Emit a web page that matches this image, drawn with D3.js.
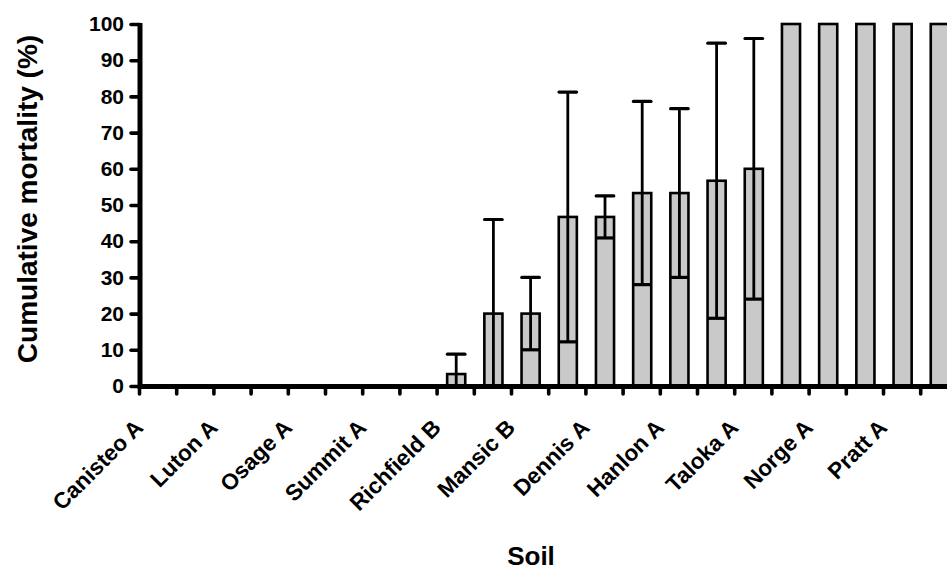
<!DOCTYPE html>
<html>
<head>
<meta charset="utf-8">
<script src="https://cdn.jsdelivr.net/npm/d3@7"></script>
<style>
  html, body { margin: 0; padding: 0; background: #fff; }
  svg { display: block; font-family: "Liberation Sans", Arial, sans-serif; font-weight: bold; }
</style>
</head>
<body>
<svg id="chart" width="947" height="571"></svg>
<script>
// ---- data ----
const categoryIndex = d3.range(22);
const soilLabels = ["Canisteo A", "Luton A", "Osage A", "Summit A", "Richfield B", "Mansic B",
                    "Dennis A", "Hanlon A", "Taloka A", "Norge A", "Pratt A"];
const labelPositions = [0, 2, 4, 6, 8, 10, 12, 14, 16, 18, 20];
const mortality = [0, 0, 0, 0, 0, 0, 0, 0, 3.3, 20, 20, 46.7, 46.7, 53.3, 53.3, 56.7, 60, 100, 100, 100, 100, 100];
const errorSD   = [0, 0, 0, 0, 0, 0, 0, 0, 5.5, 26, 10, 34.5, 5.8, 25.3, 23.3, 38, 36, 0, 0, 0, 0, 0];
const yTicks = [0, 10, 20, 30, 40, 50, 60, 70, 80, 90, 100];

// ---- layout ----
const svg = d3.select("#chart");
const x0 = 139, bandW = 37.2;
const x = d3.scaleBand().domain(categoryIndex).range([x0, x0 + bandW * categoryIndex.length]).paddingInner(0.5).paddingOuter(0.25);
const xEdge = d3.scaleLinear().domain([0, categoryIndex.length]).range([x0, x0 + bandW * categoryIndex.length]);
const y = d3.scaleLinear().domain([0, 100]).range([386, 24]);

const data = categoryIndex.map(i => ({ i, m: mortality[i], sd: errorSD[i] }));

// bars
svg.append("g").selectAll("rect")
  .data(data.filter(d => d.m > 0))
  .join("rect")
  .attr("x", d => x(d.i) + 1.25)
  .attr("width", x.bandwidth() - 0.5)
  .attr("y", d => y(d.m))
  .attr("height", d => y(0) - y(d.m))
  .attr("fill", "#c9c9c9")
  .attr("stroke", "#000")
  .attr("stroke-width", 2.6);

// error bars
const eb = svg.append("g").attr("stroke", "#000");
const errs = data.filter(d => d.sd > 0);
const cx = d => x(d.i) + x.bandwidth() / 2 + 1;
const capHalf = x.bandwidth() / 2 - 0.5;
eb.selectAll("line.v").data(errs).join("line")
  .attr("x1", cx).attr("x2", cx)
  .attr("y1", d => y(Math.max(0, d.m - d.sd)))
  .attr("y2", d => y(d.m + d.sd))
  .attr("stroke-width", 2.8);
eb.selectAll("line.top").data(errs).join("line")
  .attr("x1", d => cx(d) - capHalf).attr("x2", d => cx(d) + capHalf)
  .attr("y1", d => y(d.m + d.sd)).attr("y2", d => y(d.m + d.sd))
  .attr("stroke-width", 3.2).attr("stroke-linecap", "round");
eb.selectAll("line.bot").data(errs.filter(d => d.m - d.sd > 0)).join("line")
  .attr("x1", d => cx(d) - capHalf).attr("x2", d => cx(d) + capHalf)
  .attr("y1", d => y(d.m - d.sd)).attr("y2", d => y(d.m - d.sd))
  .attr("stroke-width", 3.2);

// y axis
const yAxis = svg.append("g")
  .attr("transform", `translate(${x0 + 1},0)`)
  .call(d3.axisLeft(y).tickValues(yTicks).tickSize(9).tickPadding(7).tickSizeOuter(0));
yAxis.select(".domain").attr("stroke", "#000").attr("stroke-width", 5).attr("d", `M0,${y(0) + 3}V${y(100) - 1}`);
yAxis.selectAll(".tick line").attr("stroke", "#000").attr("stroke-width", 3.6).attr("stroke-linecap", "round");
yAxis.selectAll(".tick text").attr("fill", "#000").style("font-size", "21px").style("font-weight", "bold")
  .style("font-family", "'Liberation Sans', Arial, sans-serif");

// x axis (ticks at category boundaries)
const xAxis = svg.append("g")
  .attr("transform", `translate(0,${y(0)})`)
  .call(d3.axisBottom(xEdge).tickValues(d3.range(0, categoryIndex.length)).tickFormat("").tickSize(8).tickSizeOuter(0));
xAxis.select(".domain").attr("stroke", "#000").attr("stroke-width", 5);
xAxis.selectAll(".tick line").attr("stroke", "#000").attr("stroke-width", 3.6).attr("stroke-linecap", "round");

// x category labels
svg.append("g").selectAll("text")
  .data(labelPositions)
  .join("text")
  .attr("transform", (p) => `translate(${x(p) + x.bandwidth() / 2 - 13},${y(0) + 43}) rotate(-45)`)
  .attr("text-anchor", "end")
  .style("font-size", "22.5px")
  .text((p, k) => soilLabels[k]);

// axis titles
svg.append("text")
  .attr("transform", `translate(37,${199}) rotate(-90)`)
  .attr("text-anchor", "middle")
  .style("font-size", "28px")
  .text("Cumulative mortality (%)");
svg.append("text")
  .attr("x", 531).attr("y", 565)
  .attr("text-anchor", "middle")
  .style("font-size", "26px")
  .text("Soil");
</script>
</body>
</html>
